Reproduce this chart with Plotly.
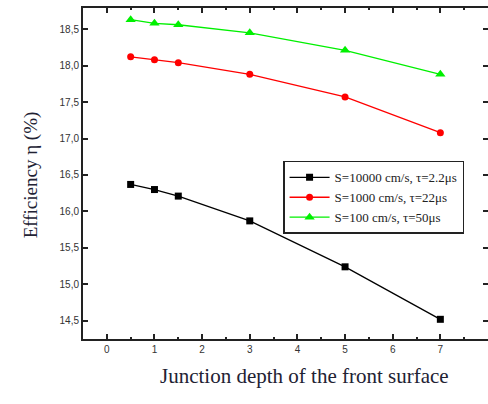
import plotly.graph_objects as go

depth = [0.5, 1, 1.5, 3, 5, 7]
eff_s10000 = [16.37, 16.30, 16.21, 15.87, 15.24, 14.52]
eff_s1000 = [18.12, 18.08, 18.04, 17.88, 17.57, 17.08]
eff_s100 = [18.63, 18.58, 18.56, 18.45, 18.21, 17.88]
names = ["S=10000 cm/s, τ=2.2μs", "S=1000 cm/s, τ=22μs", "S=100 cm/s, τ=50μs"]
ytickvals = [14.5, 15.0, 15.5, 16.0, 16.5, 17.0, 17.5, 18.0, 18.5]
yticktext = ["14,5", "15,0", "15,5", "16,0", "16,5", "17,0", "17,5", "18,0", "18,5"]
xtickvals = [0, 1, 2, 3, 4, 5, 6, 7, 8]

fig = go.Figure()
series = [
    (eff_s10000, names[0], "#000000", "square", 7),
    (eff_s1000, names[1], "#ff0000", "circle", 7),
    (eff_s100, names[2], "#00f000", "triangle-up", 9),
]
for ys, nm, col, sym, sz in series:
    fig.add_trace(go.Scatter(
        x=depth, y=ys, name=nm, mode="lines+markers",
        line=dict(color=col, width=1.3),
        marker=dict(color=col, symbol=sym, size=sz),
        cliponaxis=False,
    ))

axis_common = dict(
    showline=True, linecolor="#222222", linewidth=2, mirror="allticks",
    ticks="inside", ticklen=5, tickwidth=1.5, tickcolor="#222222",
    showgrid=False, zeroline=False, automargin=False,
    tickfont=dict(family="Liberation Sans", size=10, color="#333333"),
)

fig.update_layout(
    width=488, height=404,
    margin=dict(l=83, r=0, t=8, b=65, autoexpand=False),
    paper_bgcolor="white", plot_bgcolor="white",
    xaxis=dict(range=[-0.5, 8.0], tickvals=xtickvals,
               minor=dict(dtick=0.5, ticklen=2, ticks="inside", tickcolor="#222222", tickwidth=1.5),
               **axis_common),
    yaxis=dict(range=[14.25, 18.79], tickvals=ytickvals, ticktext=yticktext, **axis_common),
    legend=dict(x=0.494, y=0.538, xanchor="left", yanchor="top",
                bordercolor="#222222", borderwidth=1.5, bgcolor="white",
                font=dict(family="Liberation Serif", size=13, color="#222222"),
                tracegroupgap=0, itemwidth=40),
    showlegend=True,
    annotations=[
        dict(text="Efficiency η (%)", xref="paper", yref="paper", x=-0.16, y=0.495,
             textangle=-90, showarrow=False,
             font=dict(family="Liberation Serif", size=19, color="#222233")),
        dict(text="Junction depth of the front surface", xref="paper", yref="paper",
             x=0.548, y=-0.154, showarrow=False,
             font=dict(family="Liberation Serif", size=21, color="#222233")),
    ],
)

fig.write_html("out.html", config={"displayModeBar": False},
               post_script="document.body.style.margin='0';document.body.style.overflow='hidden';")
